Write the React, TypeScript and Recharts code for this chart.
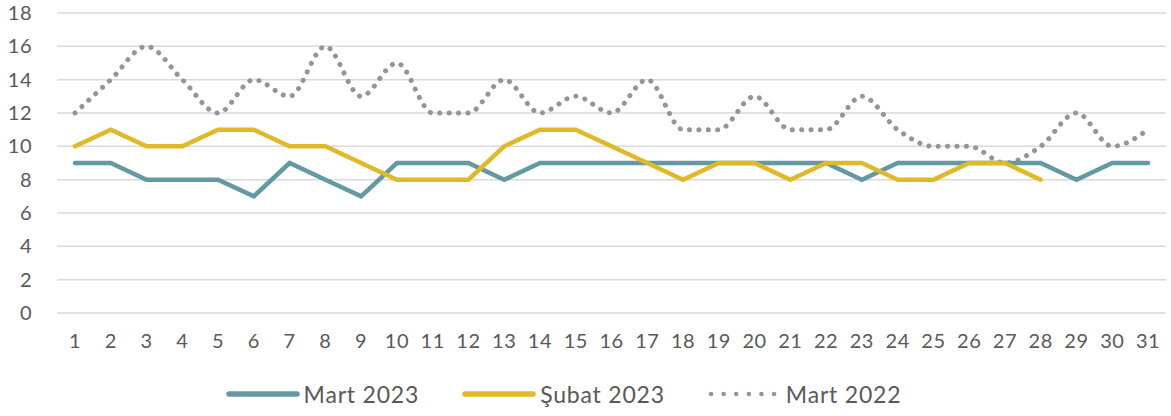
import React from 'react';
import { LineChart, Line, XAxis, YAxis, CartesianGrid, Legend } from 'recharts';

const days = Array.from({ length: 31 }, (_, i) => String(i + 1));

const mart2023 = [9, 9, 8, 8, 8, 7, 9, 8, 7, 9, 9, 9, 8, 9, 9, 9, 9, 9, 9, 9, 9, 9, 8, 9, 9, 9, 9, 9, 8, 9, 9];
const subat2023 = [10, 11, 10, 10, 11, 11, 10, 10, 9, 8, 8, 8, 10, 11, 11, 10, 9, 8, 9, 9, 8, 9, 9, 8, 8, 9, 9, 8];
const mart2022 = [12, 14, 16, 14, 12, 14, 13, 16, 13, 15, 12, 12, 14, 12, 13, 12, 14, 11, 11, 13, 11, 11, 13, 11, 10, 10, 9, 10, 12, 10, 11];

const yTicks = [0, 2, 4, 6, 8, 10, 12, 14, 16, 18];

const series = [
  { key: 'm23', name: 'Mart 2023', color: '#6399a3', dotted: false },
  { key: 's23', name: 'Şubat 2023', color: '#dfb927', dotted: false },
  { key: 'm22', name: 'Mart 2022', color: '#959595', dotted: true },
];

const data = days.map((d, i) => ({
  day: d,
  m23: mart2023[i],
  s23: subat2023[i],
  m22: mart2022[i],
}));

const FONT = 'Lato, "Open Sans", sans-serif';

function LegendRow() {
  return (
    <div style={{ display: 'flex', justifyContent: 'center', alignItems: 'center', gap: 42, paddingTop: 19, paddingRight: 52, fontFamily: FONT, fontSize: 23, letterSpacing: 0.8, color: '#595959' }}>
      {series.map((s) => (
        <div key={s.key} style={{ display: 'flex', alignItems: 'center' }}>
          <svg width={76} height={10} style={{ marginRight: 3 }}>
            <line
              x1={4}
              y1={5}
              x2={72}
              y2={5}
              stroke={s.color}
              strokeWidth={s.dotted ? 4.5 : 5.5}
              strokeLinecap="round"
              strokeDasharray={s.dotted ? '0.1 12.5' : undefined}
            />
          </svg>
          <span>{s.name}</span>
        </div>
      ))}
    </div>
  );
}

export default function App() {
  return (
    <div style={{ position: 'absolute', left: 0, top: 0, width: 1171, height: 416, background: '#fff' }}>
      <LineChart width={1171} height={416} data={data} margin={{ top: 13, right: 5, left: 12, bottom: 0 }}>
        <CartesianGrid vertical={false} stroke="#d9d9d9" strokeWidth={1.5} />
        <XAxis
          dataKey="day"
          axisLine={false}
          tickLine={false}
          tickSize={0}
          tickMargin={21}
          interval={0}
          padding={{ left: 18, right: 18 }}
          height={48}
          tick={{ fill: '#595959', fontSize: 20, fontFamily: FONT, letterSpacing: 0.5 }}
        />
        <YAxis
          domain={[0, 18]}
          ticks={yTicks}
          axisLine={false}
          tickLine={false}
          tickSize={0}
          tickMargin={25}
          width={45}
          tick={{ fill: '#595959', fontSize: 20, fontFamily: FONT, letterSpacing: 0.5 }}
        />
        <Legend verticalAlign="bottom" height={55} content={() => <LegendRow />} />
        <Line dataKey="m22" name="Mart 2022" type="monotone" stroke="#959595" strokeWidth={5} strokeLinecap="round" strokeDasharray="0.1 9.3" dot={false} isAnimationActive={false} />
        <Line dataKey="m23" name="Mart 2023" type="linear" stroke="#6399a3" strokeWidth={4.5} strokeLinecap="round" dot={false} isAnimationActive={false} />
        <Line dataKey="s23" name="Şubat 2023" type="linear" stroke="#dfb927" strokeWidth={4.5} strokeLinecap="round" dot={false} isAnimationActive={false} />
      </LineChart>
    </div>
  );
}
